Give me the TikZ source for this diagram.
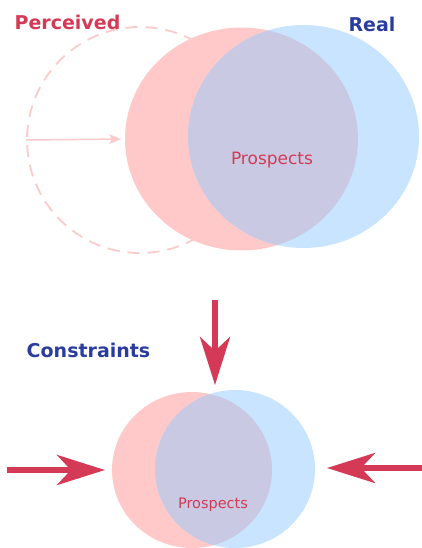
\documentclass[tikz,border=0pt]{standalone}
\usepackage{fontspec}
\setmainfont{DejaVu Sans}
\usepackage{tikz}
\usetikzlibrary{arrows.meta,shapes.geometric}

\definecolor{percred}{HTML}{D43A55}
\definecolor{realblue}{HTML}{2B3C9F}
\definecolor{percfill}{HTML}{FFC9C9}
\definecolor{realfill}{HTML}{C9E4FF}
\definecolor{lapfill}{HTML}{C9C9E3}
\definecolor{dashpink}{HTML}{FBCACA}

\begin{document}
\begin{tikzpicture}[
    x=1pt,y=-1pt,
    blob/.style={ellipse,draw=none,inner sep=0pt,outer sep=0pt},
    head/.style={font=\bfseries\fontsize{19}{19}\selectfont},
    prosp/.style={text=percred,font=\fontsize{17}{17}\selectfont},
    bigarr/.style={-{Stealth[length=48pt,width=30pt,inset=14pt]},line width=6pt,draw=percred},
    thinarr/.style={-{Stealth[length=12pt,width=10pt,inset=3pt]},line width=1.5pt,draw=dashpink}
]
\useasboundingbox (0,0) rectangle (422,548);

% perceived vs real
\node[circle,draw=dashpink,line width=1.8pt,dash pattern=on 12pt off 8pt,minimum size=226pt,inner sep=0pt] (dash) at (140,140) {};
\node[blob,fill=percfill,minimum width=233pt,minimum height=223pt] (perc) at (241.5,139) {};
\node[blob,fill=realfill,minimum width=231pt,minimum height=223pt] (real) at (303.5,136.5) {};
\begin{scope}
  \clip (perc.center) ellipse [x radius=116.5pt, y radius=111.5pt];
  \fill[lapfill] (real.center) ellipse [x radius=115.5pt, y radius=111.5pt];
\end{scope}
\draw[thinarr,shorten >=4pt] (dash.west) -- (perc.west);

\node[head,text=percred] (percLbl) at (67.5,22) {Perceived};
\node[head,text=realblue] (realLbl) at (372,24) {Real};
\node[prosp] (prospA) at (272,160) {Prospects};

% constraints
\node[blob,fill=percfill,minimum width=160pt,minimum height=156pt] (percS) at (192,470) {};
\node[blob,fill=realfill,minimum width=160pt,minimum height=158pt] (realS) at (235,469) {};
\begin{scope}
  \clip (percS.center) ellipse [x radius=80pt, y radius=78pt];
  \fill[lapfill] (realS.center) ellipse [x radius=80pt, y radius=79pt];
\end{scope}
\node[prosp,font=\fontsize{14.5}{14.5}\selectfont] (prospB) at (213,505) {Prospects};
\node[head,text=realblue] (consLbl) at (88.5,350) {Constraints};

\coordinate (cTop) at (215,300);
\coordinate (cLeft) at (7,470);
\coordinate (cRight) at (422,468);
\draw[bigarr,shorten >=7pt] (cTop) -- (cTop |- percS.north);
\draw[bigarr,shorten >=7pt] (cLeft) -- (percS.west);
\draw[bigarr,shorten >=12pt] (cRight) -- (cRight -| realS.east);
\end{tikzpicture}
\end{document}
